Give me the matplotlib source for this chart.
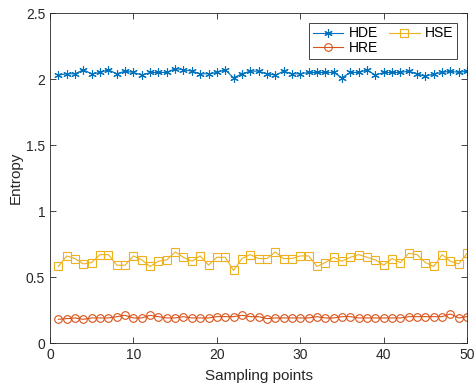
import matplotlib.pyplot as plt
import numpy as np

plt.rcParams['font.family'] = ['Liberation Sans', 'DejaVu Sans']

# entropy measured at each sampling point
points = np.arange(1, 51)
hde = [2.03, 2.04, 2.04, 2.07, 2.04, 2.05, 2.07, 2.04, 2.06, 2.05,
       2.03, 2.05, 2.05, 2.05, 2.08, 2.07, 2.06, 2.04, 2.04, 2.05,
       2.07, 2.01, 2.04, 2.06, 2.06, 2.04, 2.03, 2.06, 2.04, 2.04,
       2.05, 2.05, 2.05, 2.05, 2.01, 2.05, 2.05, 2.07, 2.03, 2.05,
       2.05, 2.05, 2.06, 2.04, 2.02, 2.04, 2.05, 2.06, 2.05, 2.06]
hse = [0.58, 0.66, 0.64, 0.60, 0.61, 0.67, 0.67, 0.59, 0.59, 0.66,
       0.63, 0.58, 0.62, 0.63, 0.69, 0.65, 0.62, 0.66, 0.59, 0.65,
       0.65, 0.55, 0.64, 0.67, 0.64, 0.64, 0.69, 0.64, 0.64, 0.66,
       0.66, 0.58, 0.61, 0.65, 0.62, 0.65, 0.67, 0.65, 0.63, 0.59,
       0.64, 0.61, 0.68, 0.67, 0.61, 0.58, 0.67, 0.62, 0.60, 0.68]
hre = [0.18, 0.185, 0.19, 0.18, 0.19, 0.19, 0.19, 0.20, 0.21, 0.19,
       0.19, 0.21, 0.20, 0.19, 0.19, 0.20, 0.19, 0.19, 0.19, 0.20,
       0.20, 0.20, 0.21, 0.20, 0.20, 0.185, 0.19, 0.19, 0.19, 0.19,
       0.19, 0.20, 0.19, 0.19, 0.20, 0.20, 0.19, 0.19, 0.19, 0.19,
       0.19, 0.19, 0.20, 0.20, 0.20, 0.20, 0.20, 0.22, 0.19, 0.20]

fig = plt.figure(figsize=(4.74, 3.85), dpi=100)
ax = fig.add_axes([0.1055, 0.109, 0.880, 0.857])

ax.plot(points, hde, color='#0072BD', lw=0.8, marker=(6, 2, 0), ms=6,
        markeredgewidth=0.8, label='HDE')
ax.plot(points, hre, color='#D95319', lw=0.8, marker='o', ms=5.5,
        markerfacecolor='none', markeredgewidth=0.8, label='HRE')
ax.plot(points, hse, color='#EDB120', lw=0.8, marker='s', ms=5.5,
        markerfacecolor='none', markeredgewidth=0.8, label='HSE')

ax.set_xlim(0, 50)
ax.set_ylim(0, 2.5)
ax.set_xticks([0, 10, 20, 30, 40, 50])
ax.set_yticks([0, 0.5, 1, 1.5, 2, 2.5])
ax.set_yticklabels(['0', '0.5', '1', '1.5', '2', '2.5'])
ax.tick_params(direction='in', top=True, right=True, length=4,
               labelsize=10, colors='#262626', width=0.6)
for s in ax.spines.values():
    s.set_linewidth(0.6)
    s.set_color('#262626')

ax.set_xlabel('Sampling points', fontsize=11, color='#262626', labelpad=5)
ax.set_ylabel('Entropy', fontsize=11, color='#262626', labelpad=2)

leg = ax.legend(ncol=2, loc='upper right', bbox_to_anchor=(0.976, 0.970),
                borderaxespad=0, fontsize=10, fancybox=False, framealpha=1,
                edgecolor='#262626', handlelength=2.2, columnspacing=0.8,
                labelspacing=0.05, borderpad=0.25, handletextpad=0.4)
leg.get_frame().set_linewidth(0.6)

fig.savefig('out.png', dpi=100)
